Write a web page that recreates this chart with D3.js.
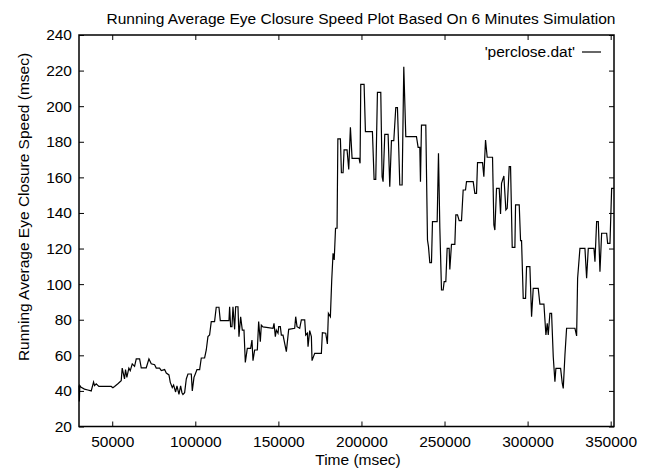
<!DOCTYPE html>
<html>
<head>
<meta charset="utf-8">
<script src="https://cdn.jsdelivr.net/npm/d3@7"></script>
<style>
  body { margin: 0; background: #fff; }
  svg { display: block; }
</style>
</head>
<body>
<script>
// time stamps (msec) and running average eye closure speed (msec)
const timeMs = [
  30000, 30200, 30500, 31300, 33300, 35300, 37350, 38760, 39360, 40360,
  41970, 49400, 50400, 51400, 53400, 55400, 56000, 57400, 58000, 58800,
  60000, 60850, 62050, 63450, 64460, 66470, 67470, 70480, 72090, 73490,
  75500, 76500, 78510, 79520, 81530, 82530, 84140, 84940, 86140, 86950,
  88150, 88960, 90160, 91160, 91970, 92570, 93570, 94580, 95580, 97590,
  98190, 99200, 100000, 101000, 102610,
  103600, 105600, 106600, 107600, 108600, 109600, 111600, 112600, 114240, 115040,
  120260, 120660, 121260, 122070, 122670, 123670, 124280, 125680, 126280, 127290,
  128290, 129300, 130100, 131300, 133310, 134110, 134720, 135720, 137330, 138130,
  139130, 139740, 140740, 146770, 147370, 148170, 148770, 149780, 150180, 151180,
  151790, 152790, 154800, 156200, 159820, 160420, 161220, 162830, 163830, 165840,
  166440, 167450, 167850, 168850, 169860, 170260, 171860, 175880, 176480, 178490,
  179490, 180100, 181300, 182110, 182910, 183600, 184400, 185320, 185800,
  187330, 187930, 188940, 189540, 191340, 192350, 193350, 194360, 198570, 199170,
  199580, 201590, 202390, 206600, 207610, 208610, 209620, 211630, 212430, 213030,
  214040, 216040, 217050, 218050, 219460, 220660, 221660, 222470, 223070, 224480,
  225480, 226690, 233110, 234110, 235120, 235520, 236120, 238730, 239740, 240340,
  241140, 242150, 242750, 245560, 246360, 247160, 248170, 249170, 249770, 250780,
  251580, 252790, 253190, 254190, 256200, 256800, 257810, 258810, 260220, 261220,
  262630, 263230, 267250,
  268250, 269250, 269860, 272870, 273670, 274680, 275680, 278890, 279700, 280300,
  281300, 282910, 283710, 284310, 285720, 286920, 287730, 288930, 289740, 290740,
  292350, 292750, 294960, 295760, 296360, 297370, 298770, 299370, 301380, 302390,
  303390, 306400, 307400, 309820, 311020, 311820, 312430, 313430, 314430, 315440,
  316440, 317040, 319860, 320860, 321460, 322470, 323470, 328490, 329500, 330100,
  331500, 334510, 335520, 336520, 339940, 340540, 341540, 342550, 343550, 344560,
  347570, 348170, 349580, 350580, 351980
];
const speed = [
  43, 34, 43, 42, 41, 40.5, 40, 45, 43, 44,
  42.5, 42.5, 41.8, 42.5, 44, 45.7, 52.8, 46.7, 52, 47.6,
  52.8, 51.4, 55.2, 53.8, 58, 58, 53, 53, 58, 55.2,
  54.7, 52.8, 52.8, 51.4, 52, 50, 49, 44.8, 41.9, 43.3,
  39.4, 42.8, 38, 42.8, 39, 38, 39, 46.7, 49.5, 49.5,
  40, 47.6, 49.5, 52, 52,
  58.5, 58.5, 63, 70.5, 71.4, 78.9, 78.9, 87, 87, 79.5,
  79.5, 87.3, 76.1, 76.1, 87.3, 74.6, 87.3, 87.3, 70.5, 81.7,
  74.2, 74.2, 56, 63.9, 63.9, 68.6, 57, 63, 63, 79,
  67.7, 77, 76, 75.2, 78, 70.5, 74.2, 72.4, 76.1, 76.1,
  71.4, 71.4, 62.1, 74.6, 75.2, 81.7, 76.1, 75.2, 79.9, 79.9,
  71.4, 72.4, 64.9, 73.9, 70.5, 57, 61.1, 61.1, 72.7, 72.4,
  66.4, 83.6, 81.7, 102.3, 117.3, 113.6, 131.4, 131.4, 181.6,
  181.6, 162.6, 162.6, 175.4, 175.4, 164.5, 188.1, 170.7, 170.7, 167.9,
  212.3, 212.3, 185.7, 185.7, 158.9, 158.9, 207.8, 207.8, 160.4, 157.6,
  184.2, 184.2, 154.8, 180.6, 180.6, 199.2, 199.2, 175.4, 155.7, 155.7,
  222.2, 182.9, 182.9, 176.9, 176.9, 157.6, 189.4, 189.4, 124.8, 121.1,
  112.1, 112.1, 135.1, 135.1, 173.5, 132.3, 96.7, 96.7, 101.4, 101.4,
  120.1, 120.1, 108.3, 122.4, 122.4, 138.9, 138.9, 135.7, 135.7, 152.9,
  152.9, 157.6, 157.6,
  151, 151, 168.3, 168.3, 160.4, 181, 171.3, 171.3, 133.2, 130.4,
  153.8, 153.8, 139.4, 156.7, 160.8, 141.7, 142.6, 166, 166, 120.7,
  120.7, 144.5, 144.5, 124.4, 124.4, 92, 92, 109.8, 109.8, 81.7,
  97.6, 97.6, 88.8, 88.8, 71.4, 78, 71.4, 83.6, 83.6, 59.2,
  45.2, 52.7, 52.7, 44.3, 41.4, 60.2, 75.2, 75.2, 70.9, 103.3,
  120.1, 120.1, 103.3, 120.1, 120.1, 112.6, 135.1, 135.1, 107, 128.6,
  128.6, 122.9, 122.9, 153.8, 153.8
];
const xTicks = [50000, 100000, 150000, 200000, 250000, 300000, 350000];
const yTicks = [20, 40, 60, 80, 100, 120, 140, 160, 180, 200, 220, 240];

const chartTitle = 'Running Average Eye Closure Speed Plot Based On 6 Minutes Simulation';
const xLabel = 'Time (msec)';
const yLabel = 'Running Average Eye Closure Speed (msec)';
const seriesName = "'perclose.dat'";

const width = 650, height = 474;
const margin = {top: 35, right: 36, bottom: 47.5, left: 79};
const fontFam = 'Liberation Sans, Arial, Helvetica, sans-serif';
const fontSize = 15.5;
const tickLen = 5;

const points = timeMs.map((t, i) => [t, speed[i]]);

const svg = d3.select('body')
  .append('svg')
  .attr('width', width)
  .attr('height', height)
  .style('font-family', fontFam)
  .style('font-size', fontSize + 'px');

const x = d3.scaleLinear()
  .domain([30000, 352000])
  .range([margin.left, width - margin.right]);

const y = d3.scaleLinear()
  .domain([20, 240])
  .range([height - margin.bottom, margin.top]);

// ticks on all four sides, pointing inward (gnuplot style)
function tickAxis(axis) {
  return g => g.call(axis)
    .call(g => g.select('.domain').remove())
    .call(g => g.selectAll('.tick line').attr('stroke', '#000'))
    .call(g => g.selectAll('.tick text').attr('fill', '#000').attr('font-family', fontFam).attr('font-size', fontSize));
}

svg.append('g')
  .attr('transform', `translate(0,${height - margin.bottom})`)
  .call(tickAxis(d3.axisBottom(x).tickValues(xTicks).tickSizeInner(-tickLen).tickSizeOuter(0).tickPadding(9).tickFormat(d3.format('d'))));

svg.append('g')
  .attr('transform', `translate(0,${margin.top})`)
  .call(tickAxis(d3.axisTop(x).tickValues(xTicks).tickSizeInner(-tickLen).tickSizeOuter(0).tickFormat('')));

svg.append('g')
  .attr('transform', `translate(${margin.left},0)`)
  .call(tickAxis(d3.axisLeft(y).tickValues(yTicks).tickSizeInner(-tickLen).tickSizeOuter(0).tickPadding(7)));

svg.append('g')
  .attr('transform', `translate(${width - margin.right},0)`)
  .call(tickAxis(d3.axisRight(y).tickValues(yTicks).tickSizeInner(-tickLen).tickSizeOuter(0).tickFormat('')));

// frame
svg.append('rect')
  .attr('x', margin.left)
  .attr('y', margin.top)
  .attr('width', width - margin.left - margin.right)
  .attr('height', height - margin.top - margin.bottom)
  .attr('fill', 'none')
  .attr('stroke', '#000')
  .attr('stroke-width', 1.5);

// data line
svg.append('path')
  .datum(points)
  .attr('fill', 'none')
  .attr('stroke', '#000')
  .attr('stroke-width', 1.2)
  .attr('d', d3.line().x(d => x(d[0])).y(d => y(d[1])));

// title
svg.append('text')
  .attr('x', 361)
  .attr('y', 23.5)
  .attr('text-anchor', 'middle')
  .text(chartTitle);

// axis labels
svg.append('text')
  .attr('x', 358)
  .attr('y', 465)
  .attr('text-anchor', 'middle')
  .text(xLabel);

svg.append('text')
  .attr('transform', 'translate(29,207) rotate(-90)')
  .attr('text-anchor', 'middle')
  .text(yLabel);

// legend
const legX = 601;
const legY = 52;
svg.append('line')
  .attr('x1', legX - 19).attr('x2', legX)
  .attr('y1', legY).attr('y2', legY)
  .attr('stroke', '#000')
  .attr('stroke-width', 1.2);
svg.append('text')
  .attr('x', legX - 26)
  .attr('y', legY)
  .attr('dy', '0.35em')
  .attr('text-anchor', 'end')
  .text(seriesName);
</script>
</body>
</html>
